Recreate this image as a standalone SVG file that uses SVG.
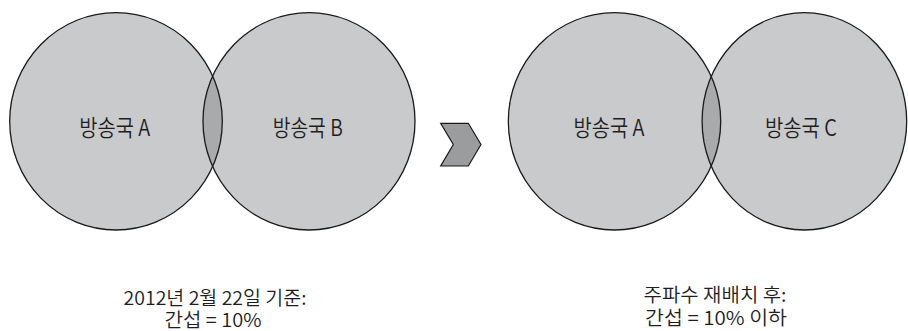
<svg xmlns="http://www.w3.org/2000/svg" width="908" height="331" viewBox="0 0 908 331">
  <style>
    .zone { fill: #c9cacc; stroke: none; }
    .overlap { fill: #a9aaac; stroke: none; }
    .rim { fill: none; stroke: #1a1a1a; stroke-width: 1.3; }
    .label { font-family: "Noto Sans CJK KR", "Noto Sans", sans-serif; font-weight: 350; fill: #1e1e1e; text-anchor: middle; }
    .station { font-size: 22.5px; }
    .note { font-size: 19px; }
  </style>
  <defs>
    <clipPath id="clipA1"><ellipse cx="116" cy="121.3" rx="106.3" ry="108.7"/></clipPath>
    <clipPath id="clipA2"><ellipse cx="614.5" cy="121.3" rx="106.2" ry="108.7"/></clipPath>
  </defs>

  <!-- before: stations A and B -->
  <g id="before">
    <g id="station-a-before">
      <ellipse class="zone" cx="116" cy="121.3" rx="106.3" ry="108.7"/>
    </g>
    <g id="station-b">
      <ellipse class="zone" cx="309" cy="121.3" rx="106" ry="108.7"/>
    </g>
    <ellipse class="overlap" clip-path="url(#clipA1)" cx="309" cy="121.3" rx="106" ry="108.7"/>
    <ellipse class="rim" cx="116" cy="121.3" rx="106.3" ry="108.7"/>
    <ellipse class="rim" cx="309" cy="121.3" rx="106" ry="108.7"/>
    <text class="label station" x="114.7" y="135.5" textLength="71" lengthAdjust="spacingAndGlyphs">방송국 A</text>
    <text class="label station" x="307.7" y="135.5" textLength="70" lengthAdjust="spacingAndGlyphs">방송국 B</text>
  </g>

  <!-- transition chevron -->
  <g id="arrow">
    <polygon points="440.7,123.3 468.3,123.3 481,144.5 468.3,166 440.7,166 453.3,144.5" fill="#9b9c9e" stroke="#1a1a1a" stroke-width="1.2" stroke-linejoin="miter"/>
  </g>

  <!-- after: stations A and C -->
  <g id="after">
    <g id="station-a-after">
      <ellipse class="zone" cx="614.5" cy="121.3" rx="106.2" ry="108.7"/>
    </g>
    <g id="station-c">
      <ellipse class="zone" cx="804.4" cy="121.3" rx="102.3" ry="108.7"/>
    </g>
    <ellipse class="overlap" clip-path="url(#clipA2)" cx="804.4" cy="121.3" rx="102.3" ry="108.7"/>
    <ellipse class="rim" cx="614.5" cy="121.3" rx="106.2" ry="108.7"/>
    <ellipse class="rim" cx="804.4" cy="121.3" rx="102.3" ry="108.7"/>
    <text class="label station" x="609" y="135.5" textLength="71" lengthAdjust="spacingAndGlyphs">방송국 A</text>
    <text class="label station" x="801" y="135.5" textLength="72" lengthAdjust="spacingAndGlyphs">방송국 C</text>
  </g>

  <!-- captions -->
  <g id="caption-before">
    <text class="label note" x="215" y="304.5" textLength="183" lengthAdjust="spacingAndGlyphs">2012년 2월 22일 기준:</text>
    <text class="label note" x="213" y="326.5" textLength="97" lengthAdjust="spacingAndGlyphs">간섭 = 10%</text>
  </g>
  <g id="caption-after">
    <text class="label note" x="715" y="302" textLength="143" lengthAdjust="spacingAndGlyphs">주파수 재배치 후:</text>
    <text class="label note" x="716" y="324.5" textLength="142" lengthAdjust="spacingAndGlyphs">간섭 = 10% 이하</text>
  </g>
</svg>
